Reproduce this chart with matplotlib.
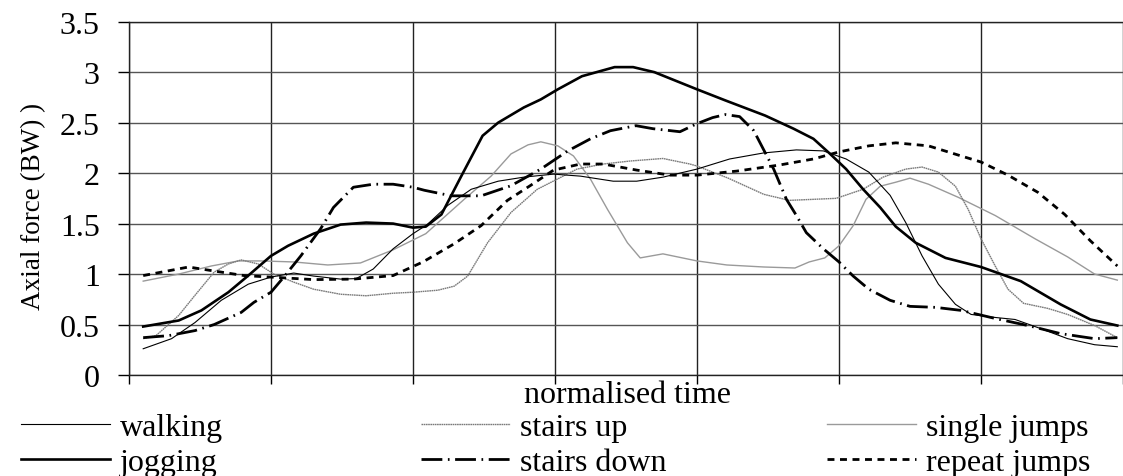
import matplotlib
matplotlib.use("Agg")
import matplotlib.pyplot as plt

plt.rcParams['font.family'] = ['Liberation Serif', 'DejaVu Serif']
plt.rcParams['lines.scale_dashes'] = False

# ---- data (x in normalised-time grid units, y in BW) ----
walking_x = [0.10,0.30,0.465,0.65,0.84,1.0,1.16,1.30,1.49,1.60,1.72,1.86,2.0,2.1,2.245,2.41,2.6,2.78,2.99,3.18,3.41,3.575,3.76,4.0,4.23,4.47,4.70,4.89,5.05,5.21,5.36,5.47,5.585,5.70,5.82,5.93,6.10,6.24,6.40,6.61,6.80,6.96]
walking_y = [0.26,0.36,0.52,0.74,0.90,0.97,1.01,0.98,0.95,0.955,1.05,1.25,1.40,1.49,1.68,1.84,1.92,1.96,1.99,1.97,1.92,1.92,1.96,2.04,2.14,2.20,2.23,2.22,2.14,2.01,1.78,1.51,1.18,0.90,0.70,0.60,0.57,0.55,0.47,0.36,0.30,0.28]

jogging_x = [0.10,0.35,0.51,0.70,0.84,1.0,1.12,1.30,1.49,1.67,1.86,2.0,2.09,2.2,2.34,2.49,2.60,2.78,2.90,3.02,3.19,3.42,3.55,3.70,4.0,4.20,4.48,4.68,4.82,4.93,5.05,5.17,5.29,5.40,5.54,5.75,6.0,6.28,6.56,6.77,6.96]
jogging_y = [0.48,0.54,0.64,0.82,0.985,1.18,1.28,1.40,1.49,1.51,1.50,1.46,1.47,1.59,1.97,2.37,2.50,2.65,2.73,2.83,2.96,3.05,3.05,3.00,2.83,2.72,2.57,2.44,2.34,2.20,2.04,1.84,1.66,1.47,1.31,1.16,1.07,0.93,0.70,0.55,0.49]

stairs_up_x = [0.10,0.19,0.35,0.465,0.60,0.70,0.79,0.91,1.02,1.16,1.30,1.49,1.67,1.86,2.0,2.175,2.29,2.385,2.525,2.69,2.875,3.015,3.155,3.34,3.53,3.76,3.95,4.0,4.22,4.47,4.65,4.98,5.17,5.31,5.47,5.585,5.70,5.82,5.91,6.0,6.10,6.19,6.30,6.47,6.61,6.80,6.96]
stairs_up_y = [0.36,0.39,0.59,0.79,1.02,1.10,1.14,1.10,1.0,0.92,0.85,0.80,0.785,0.81,0.82,0.84,0.88,0.98,1.31,1.61,1.84,1.94,2.04,2.09,2.12,2.145,2.09,2.07,1.95,1.79,1.73,1.75,1.84,1.96,2.04,2.06,2.01,1.87,1.64,1.35,1.08,0.85,0.71,0.66,0.60,0.49,0.37]

stairs_down_x = [0.10,0.28,0.465,0.60,0.79,0.88,1.0,1.09,1.21,1.35,1.44,1.58,1.72,1.86,2.0,2.08,2.27,2.48,2.69,2.90,3.09,3.25,3.39,3.57,3.69,3.88,4.0,4.11,4.2,4.30,4.40,4.54,4.63,4.70,4.77,4.89,5.0,5.10,5.21,5.36,5.50,5.68,5.86,6.10,6.33,6.56,6.80,6.96]
stairs_down_y = [0.37,0.39,0.44,0.50,0.62,0.72,0.82,0.97,1.18,1.45,1.66,1.86,1.89,1.89,1.86,1.83,1.775,1.775,1.875,2.04,2.22,2.34,2.42,2.47,2.44,2.41,2.49,2.55,2.58,2.56,2.42,2.04,1.74,1.58,1.41,1.25,1.12,0.98,0.85,0.74,0.68,0.67,0.64,0.56,0.49,0.41,0.36,0.37]

single_jumps_x = [0.10,0.35,0.58,0.77,0.93,1.16,1.40,1.63,1.86,2.09,2.36,2.55,2.69,2.81,2.90,3.02,3.13,3.25,3.37,3.51,3.60,3.76,4.0,4.21,4.47,4.69,4.79,4.90,5.0,5.10,5.19,5.29,5.40,5.50,5.63,5.84,6.10,6.38,6.61,6.80,6.96]
single_jumps_y = [0.93,1.0,1.08,1.13,1.13,1.12,1.09,1.11,1.24,1.40,1.74,1.97,2.19,2.28,2.31,2.27,2.17,1.94,1.64,1.31,1.16,1.20,1.13,1.09,1.07,1.06,1.12,1.16,1.28,1.48,1.74,1.87,1.91,1.95,1.89,1.76,1.58,1.35,1.17,1.0,0.94]

repeat_jumps_x = [0.10,0.42,0.60,0.81,1.12,1.30,1.58,1.86,2.07,2.29,2.48,2.665,2.83,2.99,3.18,3.34,3.575,3.81,4.0,4.28,4.58,4.82,5.0,5.21,5.40,5.63,5.86,6.0,6.19,6.40,6.59,6.77,6.96]
repeat_jumps_y = [0.985,1.07,1.03,0.985,0.96,0.945,0.95,0.985,1.12,1.30,1.48,1.73,1.88,2.03,2.09,2.09,2.03,1.98,1.98,2.02,2.08,2.14,2.21,2.27,2.30,2.27,2.17,2.11,1.98,1.81,1.59,1.33,1.08]

y_ticks = [0, 0.5, 1, 1.5, 2, 2.5, 3, 3.5]
y_tick_labels = ["0", "0.5", "1", "1.5", "2", "2.5", "3", "3.5"]
x_ticks = [0, 1, 2, 3, 4, 5, 6, 7]

# ---- figure ----
W, H = 1123, 477
FS = 23
fig = plt.figure(figsize=(W/100, H/100), dpi=100)
ax = fig.add_axes([129/W, 101/H, 1 - 129/W, (376-22.7)/H])

ax.set_xlim(0, 6.96)
ax.set_ylim(0, 3.5)
ax.set_yticks(y_ticks)
ax.set_yticklabels(y_tick_labels)
ax.set_xticks(x_ticks)
ax.set_xticklabels([])
ax.tick_params(axis='y', direction='out', length=8, width=1, pad=13, labelsize=FS)
ax.tick_params(axis='x', direction='out', length=6.5, width=1)
ax.grid(True, axis='x', color='#222222', lw=1.0)
ax.grid(True, axis='y', color='#555555', lw=1.0)
ax.set_axisbelow(True)
for s in ['left', 'bottom', 'top']:
    ax.spines[s].set_color('#222222')
    ax.spines[s].set_linewidth(1.0)
ax.spines['right'].set_visible(False)

l_sj, = ax.plot(single_jumps_x, single_jumps_y, color='#9a9a9a', lw=1.0, label='single jumps')
l_su, = ax.plot(stairs_up_x, stairs_up_y, color='#7a7a7a', lw=1.0, ls=(0, (1.2, 0.4)), label='stairs up')
l_w, = ax.plot(walking_x, walking_y, color='black', lw=0.8, label='walking')
l_rj, = ax.plot(repeat_jumps_x, repeat_jumps_y, color='black', lw=2.0, ls=(0, (5, 4)), label='repeat jumps')
l_sd, = ax.plot(stairs_down_x, stairs_down_y, color='black', lw=2.0, ls=(0, (15, 4, 1.2, 4)), label='stairs down')
l_j, = ax.plot(jogging_x, jogging_y, color='black', lw=1.9, label='jogging')

ax.set_ylabel('Axial force (BW) )', fontsize=19.5)
ax.yaxis.set_label_coords((46-129)/994, (376-206)/353.3)
ax.set_xlabel('normalised time', fontsize=FS)
ax.xaxis.set_label_coords((627-129)/994, (376-381)/353.3)

# ---- legend: three columns placed under the axis ----
cols = [([l_w, l_j], 21), ([l_su, l_sd], 421), ([l_sj, l_rj], 827)]
for handles, xpx in cols:
    fig.legend(handles=handles, labels=[h.get_label() for h in handles],
               loc='center left', bbox_to_anchor=(xpx/W, (H-446)/H),
               frameon=False, fontsize=FS, handlelength=2.8, handletextpad=0.3,
               labelspacing=0.18, borderpad=0, borderaxespad=0, ncol=1)

fig.savefig('out.png', dpi=100)
